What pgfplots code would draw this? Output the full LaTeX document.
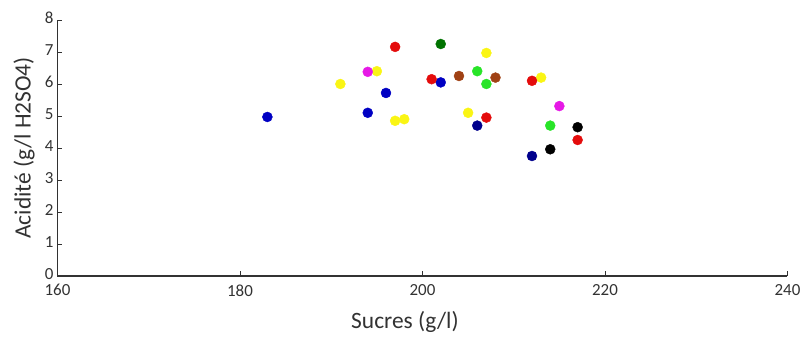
\documentclass[border=0pt]{standalone}
\usepackage{fontspec}
\setmainfont{Carlito}
\usepackage{pgfplots}
\pgfplotsset{compat=1.18}
\definecolor{txt}{RGB}{50,50,50}
\definecolor{myblue}{RGB}{0,0,195}
\definecolor{mynavy}{RGB}{0,0,140}
\definecolor{myyellow}{RGB}{250,245,20}
\definecolor{mymagenta}{RGB}{230,25,230}
\definecolor{myred}{RGB}{228,12,12}
\definecolor{mydkgreen}{RGB}{0,115,0}
\definecolor{mybrown}{RGB}{160,65,20}
\definecolor{mygreen}{RGB}{40,228,40}
\begin{document}
\begin{tikzpicture}
\useasboundingbox (-57.5bp,-62bp) rectangle (744.5bp,276bp);
\begin{axis}[
  at={(0,0)}, anchor=south west,
  scale only axis, width=730bp, height=256bp,
  xmin=160, xmax=240, ymin=0, ymax=8,
  xtick={160,180,...,240}, ytick={0,1,...,8},
  axis x line*=bottom, axis y line*=left,
  axis line style={txt, line width=1.1pt, -},
  tick style={txt, line width=0.9pt},
  tick align=inside, major tick length=5bp,
  tick label style={font=\fontsize{17}{19}\selectfont, text=txt},
  /pgf/number format/assume math mode=true,
  xticklabel style={yshift=-5bp},
  yticklabel style={xshift=-0.5bp, yshift=2bp},
  label style={font=\fontsize{23.5}{26}\selectfont, text=txt},
  xlabel={Sucres (g/l)}, ylabel={Acidité (g/l H2SO4)},
  xlabel style={at={(axis description cs:0.476,-0.18)}, anchor=center},
  ylabel style={at={(axis description cs:-0.0459,0.5)}, anchor=center},
  clip=false,
  every axis plot/.style={only marks, mark=*, mark size=5bp},
]
\addplot[myyellow, mark options={fill=myyellow, draw=myyellow}] coordinates {(191,6.0)(195,6.4)(197,4.85)(198,4.9)(205,5.1)(207,6.97)(213,6.2)};
\addplot[myblue, mark options={fill=myblue, draw=myblue}] coordinates {(183,4.97)(194,5.1)(196,5.72)(202,6.05)};
\addplot[mynavy, mark options={fill=mynavy, draw=mynavy}] coordinates {(206,4.7)(212,3.75)};
\addplot[mymagenta, mark options={fill=mymagenta, draw=mymagenta}] coordinates {(194,6.38)(215,5.31)};
\addplot[myred, mark options={fill=myred, draw=myred}] coordinates {(197,7.16)(201,6.15)(207,4.95)(212,6.1)(217,4.25)};
\addplot[mydkgreen, mark options={fill=mydkgreen, draw=mydkgreen}] coordinates {(202,7.25)};
\addplot[mybrown, mark options={fill=mybrown, draw=mybrown}] coordinates {(204,6.25)(208,6.2)};
\addplot[mygreen, mark options={fill=mygreen, draw=mygreen}] coordinates {(206,6.4)(207,6.0)(214,4.7)};
\addplot[black, mark options={fill=black, draw=black}] coordinates {(214,3.96)(217,4.65)};
\end{axis}
\end{tikzpicture}
\end{document}
